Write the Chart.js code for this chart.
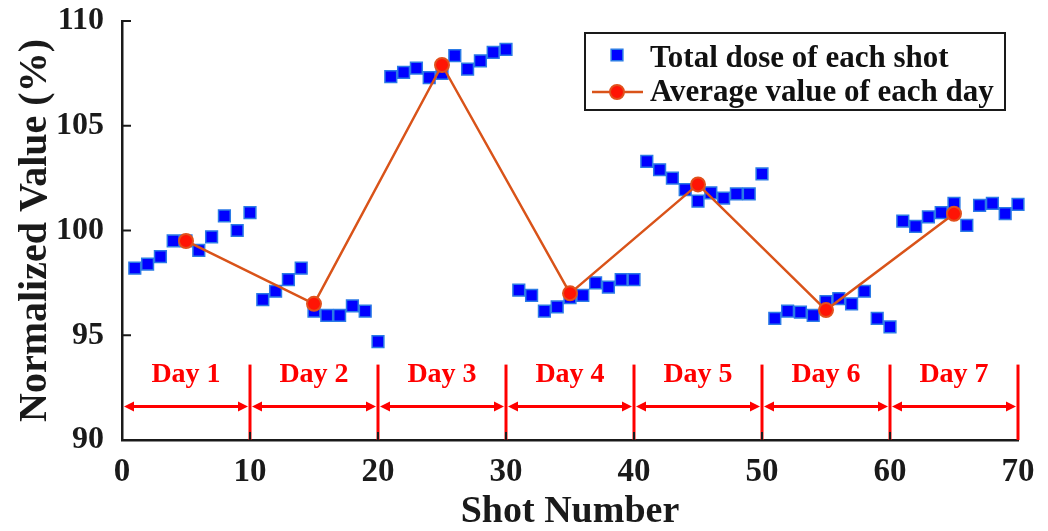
<!DOCTYPE html>
<html>
<head>
<meta charset="utf-8">
<title>Shot dose</title>
<script src="https://cdn.jsdelivr.net/npm/chart.js@4/dist/chart.umd.min.js"></script>
<style>
  html, body { margin: 0; padding: 0; background: #fff; }
  #wrap { width: 1048px; height: 531px; }
</style>
</head>
<body>
<div id="wrap"><canvas id="chart" width="1048" height="531"></canvas></div>
<script>
// shots 1..70, ten per day
const shotNumbers = Array.from({ length: 70 }, (_, i) => i + 1);
const shotDose = [
  98.2, 98.4, 98.75, 99.5, 99.5, 99.05, 99.7, 100.7, 100.0, 100.85,
  96.7, 97.1, 97.65, 98.2, 96.15, 95.95, 95.95, 96.4, 96.15, 94.7,
  107.35, 107.55, 107.75, 107.3, 107.5, 108.35, 107.7, 108.1, 108.5, 108.65,
  97.15, 96.9, 96.15, 96.35, 96.8, 96.9, 97.5, 97.3, 97.65, 97.65,
  103.3, 102.9, 102.5, 101.95, 101.4, 101.8, 101.55, 101.75, 101.75, 102.7,
  95.8, 96.15, 96.1, 95.95, 96.6, 96.75, 96.5, 97.1, 95.8, 95.4,
  100.45, 100.2, 100.65, 100.85, 101.3, 100.25, 101.2, 101.3, 100.8, 101.25
];

const dayLabels = ['Day 1', 'Day 2', 'Day 3', 'Day 4', 'Day 5', 'Day 6', 'Day 7'];
const dayCenters = [5, 15, 25, 35, 45, 55, 65];
const dayAverage = [99.5, 96.5, 107.9, 97.0, 102.2, 96.2, 100.8];
const dayBounds = [0, 10, 20, 30, 40, 50, 60, 70];

const xTicks = [0, 10, 20, 30, 40, 50, 60, 70];
const yTicks = [90, 95, 100, 105, 110];

const seriesNames = ['Total dose of each shot', 'Average value of each day'];

const FONT = 'Liberation Serif';
const RED = '#ff0000';
const LINE = '#d95319';

Chart.defaults.font.family = FONT;

// day separators, double arrows and "Day n" labels under the data
const dayBands = {
  id: 'dayBands',
  beforeDatasetsDraw(chart) {
    const { ctx, scales: { x, y } } = chart;
    const top = y.getPixelForValue(93.6);
    const arrowY = y.getPixelForValue(91.6);
    const textY = y.getPixelForValue(93.1);
    ctx.save();
    ctx.strokeStyle = RED;
    ctx.fillStyle = RED;
    ctx.lineWidth = 3;
    dayBounds.slice(1).forEach(b => {
      const px = x.getPixelForValue(b);
      ctx.beginPath();
      ctx.moveTo(px, top);
      ctx.lineTo(px, y.bottom);
      ctx.stroke();
    });
    for (let i = 0; i < dayBounds.length - 1; i++) {
      const a = x.getPixelForValue(dayBounds[i]) + 2;
      const b = x.getPixelForValue(dayBounds[i + 1]) - 2;
      ctx.beginPath();
      ctx.moveTo(a + 4, arrowY);
      ctx.lineTo(b - 4, arrowY);
      ctx.stroke();
      ctx.beginPath();
      ctx.moveTo(a, arrowY);
      ctx.lineTo(a + 10, arrowY - 5);
      ctx.lineTo(a + 10, arrowY + 5);
      ctx.closePath();
      ctx.fill();
      ctx.beginPath();
      ctx.moveTo(b, arrowY);
      ctx.lineTo(b - 10, arrowY - 5);
      ctx.lineTo(b - 10, arrowY + 5);
      ctx.closePath();
      ctx.fill();
    }
    ctx.font = 'bold 28px "' + FONT + '"';
    ctx.textAlign = 'center';
    ctx.textBaseline = 'middle';
    dayLabels.forEach((t, i) => {
      ctx.fillText(t, x.getPixelForValue(dayCenters[i]), textY);
    });

    // inward tick marks
    ctx.strokeStyle = '#1a1a1a';
    ctx.lineWidth = 2;
    yTicks.slice(1).forEach(v => {
      const py = y.getPixelForValue(v);
      ctx.beginPath();
      ctx.moveTo(x.left, py);
      ctx.lineTo(x.left + 9, py);
      ctx.stroke();
    });
    xTicks.slice(1, -1).forEach(v => {
      const px = x.getPixelForValue(v);
      ctx.beginPath();
      ctx.moveTo(px, y.bottom);
      ctx.lineTo(px, y.bottom - 8);
      ctx.stroke();
    });
    ctx.restore();
  }
};

// boxed legend: square marker row, line-with-circle row
const boxLegend = {
  id: 'boxLegend',
  afterDraw(chart) {
    const { ctx } = chart;
    const dots = chart.data.datasets[1];
    const avg = chart.data.datasets[0];
    ctx.save();
    ctx.fillStyle = '#fff';
    ctx.fillRect(585, 33, 420, 77);
    ctx.strokeStyle = '#1a1a1a';
    ctx.lineWidth = 2;
    ctx.strokeRect(585, 33, 420, 77);

    ctx.fillStyle = dots.backgroundColor;
    ctx.strokeStyle = dots.borderColor;
    ctx.lineWidth = dots.borderWidth;
    ctx.beginPath();
    const s = dots.pointRadius * Math.SQRT1_2;
    ctx.rect(617 - s, 55 - s, 2 * s, 2 * s);
    ctx.fill();
    ctx.stroke();

    ctx.strokeStyle = avg.borderColor;
    ctx.lineWidth = avg.borderWidth;
    ctx.beginPath();
    ctx.moveTo(592, 92);
    ctx.lineTo(643, 92);
    ctx.stroke();
    ctx.fillStyle = avg.pointBackgroundColor;
    ctx.strokeStyle = avg.pointBorderColor;
    ctx.lineWidth = avg.pointBorderWidth;
    ctx.beginPath();
    ctx.arc(617, 92, avg.pointRadius, 0, Math.PI * 2);
    ctx.fill();
    ctx.stroke();

    ctx.fillStyle = '#111';
    ctx.font = 'bold 31px "' + FONT + '"';
    ctx.textAlign = 'left';
    ctx.textBaseline = 'alphabetic';
    ctx.fillText(seriesNames[0], 650, 67);
    ctx.fillText(seriesNames[1], 650, 101);
    ctx.restore();
  }
};

new Chart(document.getElementById('chart'), {
  type: 'scatter',
  data: {
    datasets: [
      {
        label: seriesNames[1],
        data: dayCenters.map((d, i) => ({ x: d, y: dayAverage[i] })),
        showLine: true,
        clip: false,
        borderColor: LINE,
        borderWidth: 2.5,
        pointRadius: 7,
        pointBackgroundColor: '#ff1405',
        pointBorderColor: '#e2501c',
        pointBorderWidth: 2,
        order: 1
      },
      {
        label: seriesNames[0],
        data: shotNumbers.map((n, i) => ({ x: n, y: shotDose[i] })),
        clip: false,
        pointStyle: 'rect',
        pointRadius: 8.3,
        backgroundColor: '#0000ff',
        borderColor: '#2b7be6',
        borderWidth: 1.5,
        order: 2
      }
    ]
  },
  options: {
    responsive: false,
    animation: false,
    events: [],
    layout: { padding: { left: 12, right: 30, top: 21, bottom: 0 } },
    plugins: {
      legend: { display: false },
      tooltip: { enabled: false }
    },
    scales: {
      x: {
        type: 'linear',
        min: 0,
        max: 70,
        afterBuildTicks: s => { s.ticks = xTicks.map(v => ({ value: v })); },
        afterFit: s => { s.height = 91; s.paddingLeft = 0; s.paddingRight = 0; },
        ticks: {
          color: '#1a1a1a',
          padding: 13,
          maxRotation: 0,
          font: { size: 33, weight: 'bold' }
        },
        grid: { display: false, drawTicks: false },
        border: { display: true, color: '#1a1a1a', width: 2.5 },
        title: {
          display: true,
          text: 'Shot Number',
          color: '#1a1a1a',
          padding: { top: 0, bottom: 0 },
          font: { size: 38, weight: 'bold', lineHeight: 1 }
        }
      },
      y: {
        min: 90,
        max: 110,
        afterBuildTicks: s => { s.ticks = yTicks.map(v => ({ value: v })); },
        afterFit: s => { s.width = 110; s.paddingTop = 0; s.paddingBottom = 0; },
        ticks: {
          color: '#1a1a1a',
          padding: 18,
          font: { size: 32, weight: 'bold' }
        },
        grid: { display: false, drawTicks: false },
        border: { display: true, color: '#1a1a1a', width: 2.5 },
        title: {
          display: true,
          text: 'Normalized Value (%)',
          color: '#1a1a1a',
          padding: { top: 4, bottom: 0 },
          font: { size: 40, weight: 'bold', lineHeight: 1 }
        }
      }
    }
  },
  plugins: [dayBands, boxLegend]
});
</script>
</body>
</html>
